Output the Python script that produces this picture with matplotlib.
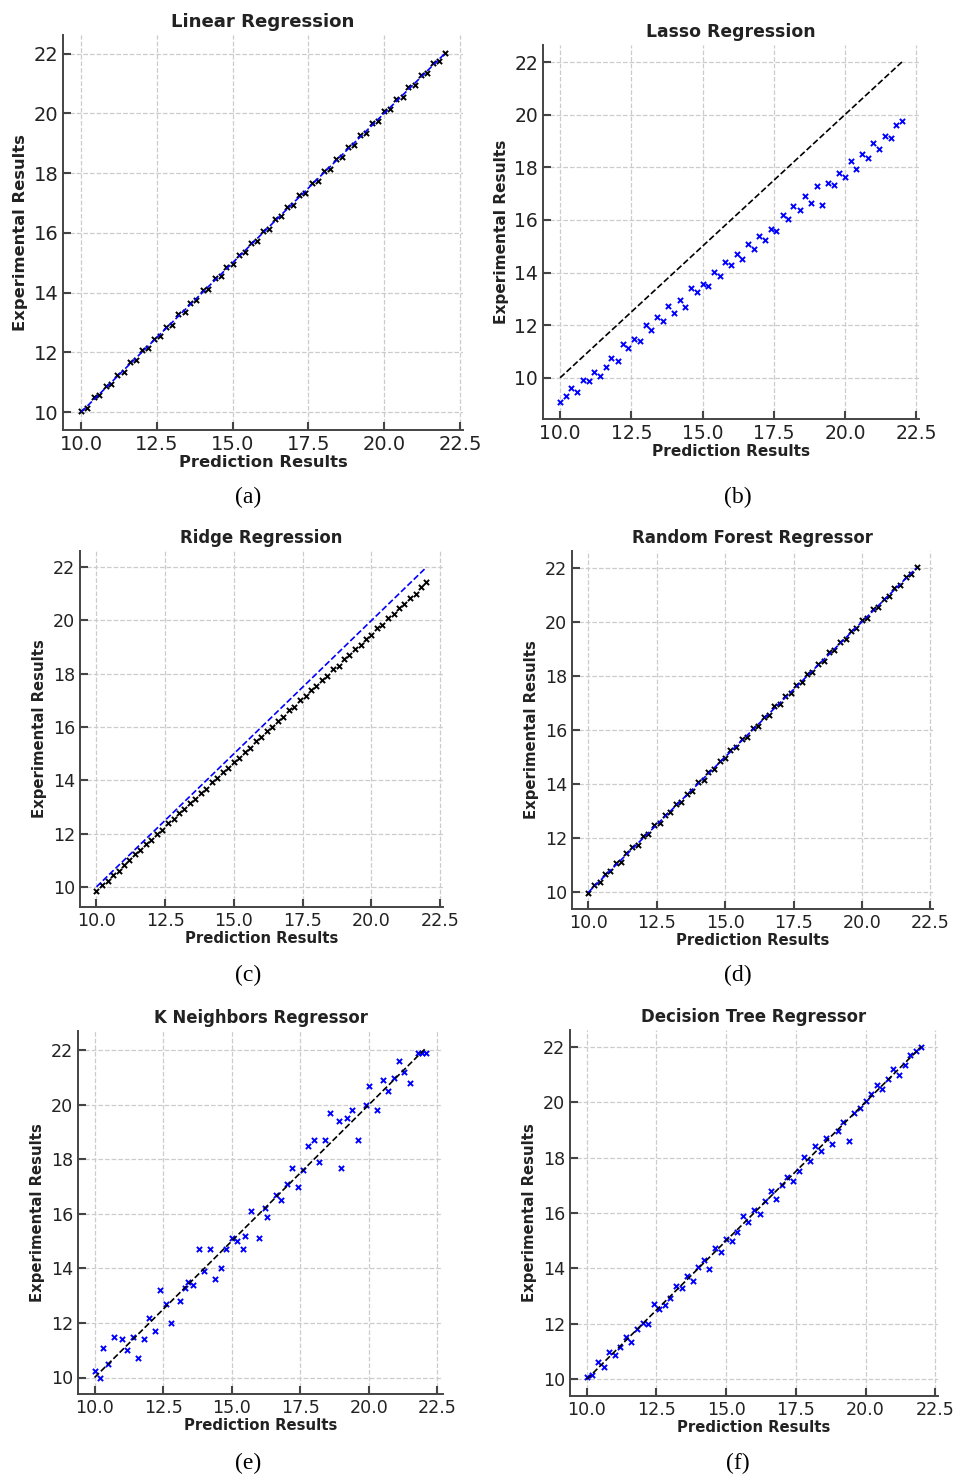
import matplotlib
matplotlib.use("Agg")
import matplotlib.pyplot as plt

# predicted vs experimental values for each model
lin_pred = [10.00, 10.19, 10.41, 10.60, 10.81, 11.00, 11.19, 11.40, 11.61, 11.80, 12.01, 12.20, 12.39, 12.60, 12.81,
            13.00, 13.20, 13.41, 13.59, 13.80, 14.01, 14.20, 14.40, 14.61, 14.79, 15.00, 15.21, 15.40, 15.60, 15.80,
            16.01, 16.19, 16.40, 16.61, 16.80, 17.00, 17.20, 17.39, 17.61, 17.80, 18.00, 18.21, 18.40, 18.60, 18.79,
            19.00, 19.21, 19.40, 19.60, 19.81, 20.00, 20.19, 20.40, 20.61, 20.80, 21.00, 21.20, 21.41, 21.60, 21.80, 22.00]
lin_exp = [10.04, 10.12, 10.50, 10.56, 10.88, 10.95, 11.25, 11.34, 11.69, 11.74, 12.08, 12.14, 12.46, 12.55, 12.86,
           12.93, 13.27, 13.36, 13.66, 13.74, 14.08, 14.13, 14.48, 14.55, 14.86, 14.95, 15.26, 15.35, 15.67, 15.74,
           16.07, 16.14, 16.47, 16.55, 16.86, 16.94, 17.27, 17.33, 17.68, 17.75, 18.07, 18.14, 18.47, 18.54, 18.86,
           18.94, 19.27, 19.34, 19.67, 19.75, 20.08, 20.13, 20.47, 20.54, 20.87, 20.94, 21.27, 21.35, 21.67, 21.75, 22.02]

lasso_pred = [10.00, 10.21, 10.39, 10.60, 10.82, 11.00, 11.18, 11.41, 11.60, 11.79, 12.02, 12.20, 12.38, 12.61, 12.80,
              13.01, 13.19, 13.40, 13.62, 13.80, 13.99, 14.21, 14.40, 14.58, 14.81, 15.00, 15.20, 15.42, 15.60, 15.79,
              16.01, 16.20, 16.39, 16.61, 16.80, 17.00, 17.21, 17.40, 17.58, 17.81, 18.00, 18.19, 18.42, 18.60, 18.80,
              19.01, 19.20, 19.39, 19.61, 19.80, 20.00, 20.21, 20.40, 20.59, 20.81, 21.00, 21.19, 21.40, 21.61, 21.80, 22.00]
lasso_exp = [9.08, 9.30, 9.62, 9.45, 9.92, 9.86, 10.22, 10.05, 10.40, 10.74, 10.62, 11.30, 11.12, 11.46, 11.38,
             12.00, 11.82, 12.32, 12.15, 12.72, 12.46, 12.95, 12.70, 13.40, 13.25, 13.58, 13.48, 14.02, 13.86, 14.40,
             14.30, 14.70, 14.52, 15.10, 14.88, 15.40, 15.22, 15.66, 15.58, 16.20, 16.05, 16.52, 16.38, 16.90, 16.65,
             17.28, 16.55, 17.40, 17.32, 17.78, 17.62, 18.22, 17.95, 18.50, 18.35, 18.92, 18.70, 19.18, 19.10, 19.60, 19.75]

ridge_pred = [10.00, 10.20, 10.40, 10.60, 10.80, 11.00, 11.20, 11.40, 11.60, 11.80, 12.00, 12.20, 12.40, 12.60, 12.80,
              13.00, 13.20, 13.40, 13.60, 13.80, 14.00, 14.20, 14.40, 14.60, 14.80, 15.00, 15.20, 15.40, 15.60, 15.80,
              16.00, 16.20, 16.40, 16.60, 16.80, 17.00, 17.20, 17.40, 17.60, 17.80, 18.00, 18.20, 18.40, 18.60, 18.80,
              19.00, 19.20, 19.40, 19.60, 19.80, 20.00, 20.20, 20.40, 20.60, 20.80, 21.00, 21.20, 21.40, 21.60, 21.80, 22.00]
ridge_exp = [9.85, 10.06, 10.22, 10.45, 10.60, 10.83, 10.99, 11.23, 11.37, 11.61, 11.76, 12.00, 12.14, 12.38, 12.53,
             12.77, 12.91, 13.15, 13.30, 13.54, 13.68, 13.92, 14.07, 14.31, 14.45, 14.69, 14.84, 15.08, 15.22, 15.46,
             15.61, 15.85, 15.99, 16.23, 16.38, 16.62, 16.76, 17.00, 17.15, 17.39, 17.53, 17.77, 17.92, 18.16, 18.30,
             18.54, 18.69, 18.93, 19.07, 19.31, 19.46, 19.70, 19.84, 20.08, 20.23, 20.47, 20.61, 20.85, 21.00, 21.24, 21.45]

rf_pred = [10.00, 10.20, 10.41, 10.59, 10.80, 11.01, 11.20, 11.39, 11.60, 11.81, 12.00, 12.19, 12.41, 12.60, 12.79,
           13.00, 13.21, 13.40, 13.60, 13.79, 14.00, 14.21, 14.39, 14.60, 14.80, 15.01, 15.19, 15.40, 15.61, 15.80,
           16.00, 16.20, 16.41, 16.59, 16.80, 17.01, 17.19, 17.40, 17.60, 17.81, 18.00, 18.19, 18.40, 18.61, 18.80,
           18.99, 19.20, 19.41, 19.60, 19.80, 20.01, 20.20, 20.39, 20.60, 20.81, 21.00, 21.19, 21.40, 21.61, 21.80, 22.00]
rf_exp = [9.98, 10.25, 10.36, 10.67, 10.78, 11.07, 11.13, 11.44, 11.69, 11.76, 12.07, 12.14, 12.47, 12.57, 12.86,
          12.96, 13.28, 13.35, 13.65, 13.73, 14.08, 14.15, 14.46, 14.56, 14.87, 14.96, 15.25, 15.36, 15.66, 15.75,
          16.06, 16.15, 16.47, 16.55, 16.87, 16.95, 17.26, 17.36, 17.66, 17.76, 18.07, 18.15, 18.45, 18.56, 18.87,
          18.95, 19.27, 19.36, 19.66, 19.76, 20.07, 20.14, 20.46, 20.56, 20.86, 20.95, 21.27, 21.35, 21.67, 21.76, 22.02]

knn_pred = [10.00, 10.20, 10.30, 10.50, 10.70, 11.00, 11.20, 11.40, 11.60, 11.80, 12.00, 12.20, 12.40, 12.60, 12.80,
            13.10, 13.30, 13.40, 13.60, 13.80, 14.00, 14.20, 14.40, 14.60, 14.80, 15.00, 15.20, 15.40, 15.50, 15.70,
            16.00, 16.20, 16.30, 16.60, 16.80, 17.00, 17.20, 17.40, 17.60, 17.80, 18.00, 18.20, 18.40, 18.60, 18.90,
            19.00, 19.20, 19.40, 19.60, 19.90, 20.00, 20.30, 20.50, 20.70, 20.90, 21.10, 21.30, 21.50, 21.80, 21.95, 22.10]
knn_exp = [10.25, 10.00, 11.10, 10.50, 11.50, 11.40, 11.00, 11.50, 10.70, 11.40, 12.20, 11.70, 13.20, 12.70, 12.00,
           12.80, 13.30, 13.50, 13.40, 14.70, 13.90, 14.70, 13.60, 14.00, 14.70, 15.10, 15.00, 14.70, 15.20, 16.10,
           15.10, 16.20, 15.90, 16.70, 16.50, 17.10, 17.70, 17.00, 17.60, 18.50, 18.70, 17.90, 18.70, 19.70, 19.40,
           17.70, 19.50, 19.80, 18.70, 20.00, 20.70, 19.80, 20.90, 20.50, 21.00, 21.60, 21.20, 20.80, 21.90, 21.90, 21.90]

dt_pred = [10.00, 10.20, 10.40, 10.61, 10.80, 11.00, 11.20, 11.40, 11.60, 11.80, 12.01, 12.20, 12.40, 12.60, 12.80,
           13.00, 13.20, 13.40, 13.60, 13.80, 14.00, 14.20, 14.40, 14.60, 14.80, 15.00, 15.20, 15.40, 15.60, 15.80,
           16.00, 16.20, 16.40, 16.60, 16.80, 17.00, 17.20, 17.40, 17.60, 17.80, 18.00, 18.20, 18.40, 18.60, 18.80,
           19.00, 19.20, 19.40, 19.60, 19.80, 20.00, 20.20, 20.40, 20.60, 20.80, 21.00, 21.20, 21.40, 21.60, 21.80, 22.00]
dt_exp = [10.08, 10.15, 10.62, 10.45, 11.00, 10.88, 11.18, 11.52, 11.35, 11.82, 12.05, 11.98, 12.72, 12.52, 12.70,
          12.92, 13.36, 13.28, 13.72, 13.55, 14.05, 14.30, 13.98, 14.72, 14.60, 15.08, 14.98, 15.30, 15.88, 15.66,
          16.12, 15.96, 16.42, 16.80, 16.52, 17.02, 17.30, 17.15, 17.52, 18.02, 17.88, 18.40, 18.22, 18.70, 18.50,
          18.96, 19.30, 18.60, 19.62, 19.80, 20.05, 20.30, 20.62, 20.48, 20.85, 21.18, 20.98, 21.32, 21.70, 21.86, 22.00]

panels = [
    # title, pred, exp, point colour, line colour, rect (left, right, top, bottom px), fonts (tick, label, title), caption
    ("Linear Regression", lin_pred, lin_exp, "black", "blue", (63, 463, 35, 430), (14, 11.8, 13.1), "(a)"),
    ("Lasso Regression", lasso_pred, lasso_exp, "blue", "black", (543, 919, 45, 419), (13.5, 11.1, 12.4), "(b)"),
    ("Ridge Regression", ridge_pred, ridge_exp, "black", "blue", (80, 443, 551, 907), (12.6, 10.7, 11.9), "(c)"),
    ("Random Forest Regressor", rf_pred, rf_exp, "black", "blue", (572, 933, 551, 909), (12.6, 10.7, 11.9), "(d)"),
    ("K Neighbors Regressor", knn_pred, knn_exp, "blue", "black", (78, 443, 1031, 1394), (12.6, 10.7, 11.9), "(e)"),
    ("Decision Tree Regressor", dt_pred, dt_exp, "blue", "black", (570, 938, 1030, 1396), (12.6, 10.7, 11.9), "(f)"),
]
caption_y = [497, 497, 975, 975, 1463, 1463]
caption_x = [248, 738, 248, 738, 248, 738]

W, H = 956, 1479
fig = plt.figure(figsize=(W / 100, H / 100), dpi=100)

for i, (title, pred, exp, pcol, lcol, (l, r, t, b), (fs_tick, fs_lab, fs_title), cap) in enumerate(panels):
    ax = fig.add_axes([l / W, 1 - b / H, (r - l) / W, (b - t) / H])
    ax.scatter(pred, exp, marker="x", s=14, linewidths=1.4, color=pcol, zorder=3)
    lo, hi = min(pred), max(pred)
    ax.plot([lo, hi], [lo, hi], linestyle="--", color=lcol, linewidth=1.2, zorder=4)
    ax.margins(0.05)
    ax.set_xticks([10, 12.5, 15, 17.5, 20, 22.5])
    ax.set_yticks([10, 12, 14, 16, 18, 20, 22])
    ax.grid(True, linestyle="--", color="#cccccc", linewidth=0.9)
    ax.set_axisbelow(True)
    for side in ("top", "right"):
        ax.spines[side].set_visible(False)
    for side in ("left", "bottom"):
        ax.spines[side].set_color("#444444")
        ax.spines[side].set_linewidth(1.4)
    ax.tick_params(direction="in", length=6, width=1.5, color="#444444", labelsize=fs_tick, colors="#222222")
    ax.set_xlabel("Prediction Results", fontsize=fs_lab, fontweight="bold", labelpad=1, color="#222222")
    ax.set_ylabel("Experimental Results", fontsize=fs_lab, fontweight="bold", labelpad=4, color="#222222")
    ax.set_title(title, fontsize=fs_title, fontweight="bold", pad=6, color="#222222")
    fig.text(caption_x[i] / W, 1 - caption_y[i] / H, cap, ha="center", va="center",
             fontsize=17, family="Liberation Serif")

fig.savefig("out.png", dpi=100)
